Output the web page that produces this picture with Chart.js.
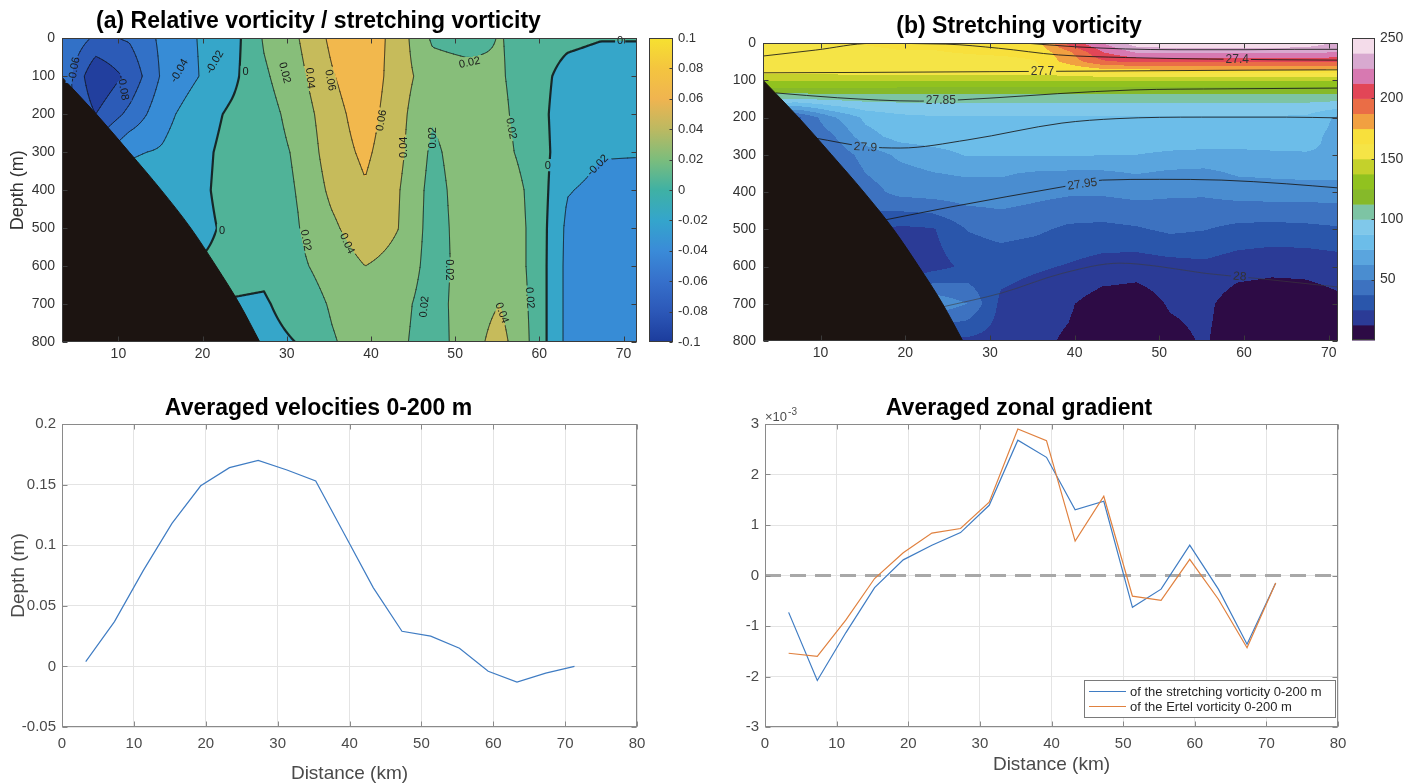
<!DOCTYPE html>
<html>
<head>
<meta charset="utf-8">
<script src="https://cdn.jsdelivr.net/npm/chart.js@4.4.1/dist/chart.umd.min.js"></script>
<style>
  html, body { margin: 0; padding: 0; background: #fff; }
  body { width: 1414px; height: 783px; position: relative; overflow: hidden; }
  canvas { position: absolute; }
</style>
</head>
<body>
<canvas id="cA" width="700" height="380" style="left:0px;top:0px"></canvas>
<canvas id="cAbar" width="70" height="380" style="left:640px;top:0px"></canvas>
<canvas id="cB" width="700" height="380" style="left:700px;top:0px"></canvas>
<canvas id="cBbar" width="69" height="380" style="left:1345px;top:0px"></canvas>
<canvas id="cC" width="700" height="403" style="left:0px;top:380px"></canvas>
<canvas id="cD" width="700" height="403" style="left:700px;top:380px"></canvas>
<script>
// ---- ticks ----
const depthTicks = [0, 100, 200, 300, 400, 500, 600, 700, 800];
const sectionKmTicks = [10, 20, 30, 40, 50, 60, 70];
const distTicks = [0, 10, 20, 30, 40, 50, 60, 70, 80];
const velTicks = [-0.05, 0, 0.05, 0.1, 0.15, 0.2];
const gradTicks = [-3, -2, -1, 0, 1, 2, 3];
const relBarTicks = [-0.1, -0.08, -0.06, -0.04, -0.02, 0, 0.02, 0.04, 0.06, 0.08, 0.1];
const strBarTicks = [50, 100, 150, 200, 250];

// ---- bathymetry (shelf slope) ----
const bathyKm = [3.2, 7.4, 11.3, 15.1, 18.6, 21.6, 24.4, 26.8];
const bathyDepth = [100, 200, 300, 400, 500, 600, 700, 800];

// ---- (a) relative vorticity / stretching vorticity, rows by depth ----
const relKm = [3.3, 7.3, 11.3, 15.3, 19.3, 23.3, 27.3, 31.3, 35.3, 39.3, 43.3, 47.3, 51.3, 55.3, 59.3, 63.3, 67.3, 71.3];
const relDepth = [0, 100, 200, 300, 400, 500, 600, 700, 800];
const rel000 = [-0.04, -0.064, -0.058, -0.035, -0.02, -0.01, 0.022, 0.039, 0.064, 0.075, 0.05, 0.017, 0.012, 0.021, 0.012, 0.005, 0.001, 0.001];
const rel100 = [-0.045, -0.098, -0.075, -0.036, -0.021, -0.006, 0.017, 0.034, 0.058, 0.075, 0.048, 0.03, 0.028, 0.022, 0.01, -0.008, -0.012, -0.012];
const rel200 = [-0.05, -0.08, -0.055, -0.026, -0.01, 0.003, 0.012, 0.028, 0.052, 0.07, 0.046, 0.022, 0.03, 0.024, 0.01, -0.012, -0.016, -0.017];
const rel300 = [-0.04, -0.05, -0.022, -0.018, -0.006, 0.006, 0.01, 0.023, 0.05, 0.064, 0.045, 0.016, 0.03, 0.026, 0.012, -0.012, -0.019, -0.019];
const rel400 = [-0.03, -0.03, -0.012, -0.01, -0.005, 0.007, 0.008, 0.021, 0.044, 0.058, 0.041, 0.013, 0.029, 0.033, 0.015, -0.019, -0.024, -0.026];
const rel500 = [-0.03, -0.02, -0.01, -0.008, -0.006, 0.004, 0.008, 0.019, 0.036, 0.052, 0.04, 0.012, 0.028, 0.034, 0.016, -0.024, -0.026, -0.027];
const rel600 = [-0.03, -0.02, -0.01, -0.005, 0.001, 0.005, 0.004, 0.016, 0.028, 0.04, 0.034, 0.012, 0.027, 0.034, 0.016, -0.025, -0.027, -0.028];
const rel700 = [-0.03, -0.02, -0.01, -0.005, 0.002, -0.001, -0.002, 0.008, 0.022, 0.032, 0.026, 0.011, 0.03, 0.04, 0.016, -0.025, -0.027, -0.028];
const rel800 = [-0.03, -0.02, -0.01, -0.005, 0.0, -0.004, -0.006, 0.0005, 0.018, 0.029, 0.024, 0.01, 0.03, 0.048, 0.016, -0.025, -0.027, -0.028];
const relLevels = [-0.08, -0.06, -0.04, -0.02, 0, 0.02, 0.04, 0.06, 0.08];
const relLabelText = ['-0.06', '-0.08', '-0.04', '-0.02', '0', '0.02', '0.04', '0.06', '0.06', '0.04', '0.02', '0.02', '0.02', '0', '-0.02', '0', '0.04', '0.02', '0', '0.02', '0.02', '0.04', '0.02'];
const relLabelKm = [4.7, 10.6, 17.2, 21.4, 25.1, 29.8, 32.8, 35.2, 41.2, 43.9, 47.3, 51.7, 56.7, 61.0, 66.9, 69.6, 37.2, 32.3, 22.3, 49.3, 46.3, 55.6, 58.9];
const relLabelDepth = [82, 130, 85, 62, 88, 90, 105, 110, 216, 287, 262, 63, 237, 334, 334, 5, 540, 532, 505, 610, 707, 723, 684];
const relLabelAngle = [-80, 80, -60, -60, 0, 75, 85, 80, -80, -90, -90, -12, 80, 0, -45, 0, 65, 80, 0, 90, -85, 70, 85];

// ---- (b) stretching vorticity, rows by depth ----
const strKm = [3.3, 7.3, 11.3, 15.3, 19.3, 23.3, 27.3, 31.3, 35.3, 39.3, 43.3, 47.3, 51.3, 55.3, 59.3, 63.3, 67.3, 71.3];
const strDepth = [0, 25, 50, 75, 100, 125, 150, 200, 250, 300, 350, 400, 500, 600, 700, 800];
const str000 = [162, 162, 163, 163, 164, 164, 165, 166, 168, 205, 225, 245, 248, 248, 248, 248, 245, 235];
const str025 = [160, 160, 161, 161, 162, 162, 163, 164, 165, 185, 212, 226, 228, 228, 228, 228, 228, 224];
const str050 = [158, 158, 159, 159, 160, 160, 160, 160, 162, 180, 198, 202, 203, 203, 203, 203, 203, 202];
const str075 = [156, 156, 156, 157, 157, 157, 158, 158, 158, 162, 168, 170, 170, 170, 170, 170, 170, 170];
const str100 = [140, 140, 140, 140, 139, 139, 139, 139, 139, 139, 139, 139, 138, 138, 138, 138, 138, 138];
const str125 = [121, 121, 121, 121, 121, 121, 121, 120, 120, 120, 120, 120, 120, 120, 120, 120, 120, 120];
const str150 = [100, 100, 103, 104, 104, 104, 104, 104, 104, 104, 104, 104, 104, 104, 104, 104, 104, 104];
const str200 = [40, 35, 60, 78, 84, 86, 86, 86, 86, 86, 86, 86, 86, 86, 86, 86, 85, 72];
const str250 = [40, 35, 48, 70, 80, 82, 82, 82, 82, 82, 82, 82, 82, 82, 82, 82, 80, 70];
const str300 = [30, 30, 40, 55, 65, 70, 76, 76, 76, 76, 75.5, 75, 73, 72, 72, 73, 74, 74];
const str350 = [30, 30, 35, 50, 58, 62, 64, 64, 61, 60, 60, 63, 60, 59, 64, 65, 66, 66];
const str400 = [30, 30, 32, 44, 54, 56, 57, 57, 54, 52, 52, 54, 52, 52, 55, 56, 56, 56];
const str500 = [30, 30, 30, 30, 22, 24, 38, 42, 40, 35, 34, 36, 40, 38, 34, 33, 34, 36];
const str600 = [25, 25, 25, 25, 18, 20, 28, 30, 27, 24, 20, 18, 20, 22, 18, 16, 16, 18];
const str700 = [25, 25, 25, 25, 25, 60, 50, 22, 17, 14, 6, 5, 14, 16, 5, 4, 6, 10];
const str800 = [20, 20, 20, 20, 20, 20, 22, 20, 15, 11, 4, 4, 8, 14, 4, 3, 3, 4];
const strLevels = [12.5, 25, 37.5, 50, 62.5, 75, 87.5, 100, 112.5, 125, 137.5, 150, 162.5, 175, 187.5, 200, 212.5, 225, 237.5];
const strBarEdges = [0, 12.5, 25, 37.5, 50, 62.5, 75, 87.5, 100, 112.5, 125, 137.5, 150, 162.5, 175, 187.5, 200, 212.5, 225, 237.5, 250];

// isopycnals drawn over (b)
const iso273Km = [34, 40, 46, 52, 60, 66, 71.1];
const iso273Depth = [0, 10, 16, 18, 18, 17, 17];
const iso274Km = [3.2, 9.4, 16, 24.8, 31, 38.1, 46, 55.8, 64, 71.1];
const iso274Depth = [35, 19, 1, 3, 14, 32, 39, 43, 45, 46];
const iso277Km = [3.2, 15, 30, 45, 60, 71.1];
const iso277Depth = [80, 79, 77, 75, 73, 72];
const iso2785Km = [4.7, 12, 21.7, 30, 38, 46.9, 58, 71.1];
const iso2785Depth = [134, 147, 156, 148, 136, 126, 123, 121];
const iso279Km = [9.3, 15.3, 19.4, 27.4, 38.5, 45, 55, 65, 71.1];
const iso279Depth = [255, 278, 282, 260, 215, 203, 199, 199, 201];
const iso2795Km = [17.6, 25.4, 38.6, 43.3, 50, 57.3, 65, 71.1];
const iso2795Depth = [475, 440, 386, 368, 366, 368, 378, 389];
const iso28Km = [24.3, 31.4, 38.6, 45.4, 50, 55.3, 62, 71.1];
const iso28Depth = [709, 671, 618, 591, 600, 618, 633, 655];
const isoLabelText = ['27.4', '27.7', '27.85', '27.9', '27.95', '28'];
const isoLabelKm = [59.2, 36.2, 24.2, 15.3, 40.9, 59.5];
const isoLabelDepth = [44, 77, 153, 279, 378, 626];
const isoLabelAngle = [0, 0, 0, 3, -8, 5];

// ---- bottom panels ----
const distKm = [3.3, 7.3, 11.3, 15.3, 19.3, 23.3, 27.3, 31.3, 35.3, 39.3, 43.3, 47.3, 51.3, 55.3, 59.3, 63.3, 67.3, 71.3];
const velAvg = [0.004, 0.037, 0.079, 0.118, 0.149, 0.164, 0.170, 0.162, 0.153, 0.109, 0.065, 0.029, 0.025, 0.015, -0.004, -0.013, -0.0055, 0.0];
// zonal gradient, units of 1e-3
const gradStretch = [-0.73, -2.08, -1.13, -0.24, 0.31, 0.6, 0.85, 1.39, 2.68, 2.34, 1.30, 1.47, -0.63, -0.27, 0.6, -0.27, -1.36, -0.15];
const gradErtel = [-1.54, -1.6, -0.88, -0.06, 0.45, 0.84, 0.93, 1.45, 2.9, 2.67, 0.68, 1.57, -0.41, -0.49, 0.32, -0.47, -1.43, -0.15];
const zeroLineKm = [0, 80];
const zeroLineVal = [0, 0];

// ---- colours ----
const relColors = ['#223f9e', '#2c5bb7', '#3271c7', '#378cd6', '#36a6c9', '#50b398', '#87be7a', '#c6bb5b', '#f2b84d', '#f7d93a'];
const relBarColors = ['#1c3c9c', '#2c58b8', '#3670cb', '#3a8bd8', '#34a5cc', '#3fb1a4', '#7cbd7c', '#bcb961', '#f0b450', '#f4c53f', '#f6e130'];
const strColors = ['#2d0b45', '#2b3b96', '#2a56ab', '#3d72c0', '#4a8dd0', '#5aa5de', '#6cbde9', '#80c8ea', '#7dc4a4', '#86b92a', '#91c21f',
  '#c4d12b', '#f5e446', '#f8e03c', '#f1a041', '#ea6d46', '#e24657', '#d779b1', '#d8a9d0', '#f4dcea'];
const FONT = '"Liberation Sans", Arial, Helvetica, sans-serif';

Chart.defaults.font.family = FONT;
Chart.defaults.color = '#333';
Chart.defaults.animation = false;

// ---------- helpers ----------
const hex = h => [parseInt(h.slice(1, 3), 16), parseInt(h.slice(3, 5), 16), parseInt(h.slice(5, 7), 16)];
const pts = (xs, ys) => xs.map((x, i) => ({ x, y: ys[i] }));
const ticksFrom = list => scale => { scale.ticks = list.map(v => ({ value: v })); };
const fmt = v => String(Number(Number(v).toFixed(3)));

function segIndex(arr, v) {
  let i = 0;
  while (i < arr.length - 2 && v > arr[i + 1]) i++;
  return i;
}
function fieldAt(xs, ds, rows, x, d) {
  const i = segIndex(xs, x), j = segIndex(ds, d);
  const tx = Math.min(1, Math.max(0, (x - xs[i]) / (xs[i + 1] - xs[i])));
  const ty = Math.min(1, Math.max(0, (d - ds[j]) / (ds[j + 1] - ds[j])));
  const r0 = rows[j], r1 = rows[j + 1];
  return (r0[i] * (1 - tx) + r0[i + 1] * tx) * (1 - ty) + (r1[i] * (1 - tx) + r1[i + 1] * tx) * ty;
}
function bandOf(levels, v) {
  let k = 0;
  while (k < levels.length && v >= levels[k]) k++;
  return k;
}

// filled contour section drawn through the chart scales;
// contour lines / isolines get a gap where their label sits (like clabel)
function fieldLayer(f) {
  const rgb = f.colors.map(hex);
  const at = (x, d) => fieldAt(f.xs, f.ds, f.rows, x, d);
  const labelBoxes = (ctx, x, y) => {
    ctx.font = f.labelSize + 'px ' + FONT;
    return f.labelText.map((t, n) => {
      const cx = x.getPixelForValue(f.labelKm[n]), cy = y.getPixelForValue(f.labelDepth[n]);
      const hw = ctx.measureText(t).width / 2 + 2, hh = f.labelSize * 0.55;
      const a = f.labelAngle[n] * Math.PI / 180, c = Math.cos(a), s = Math.sin(a);
      return [[-hw, -hh], [hw, -hh], [hw, hh], [-hw, hh]].map(([u, v]) => [cx + u * c - v * s, cy + u * s + v * c]);
    });
  };
  return {
    id: 'field',
    beforeDatasetsDraw(chart) {
      const { ctx, chartArea: a, scales: { x, y } } = chart;
      const left = Math.round(a.left), top = Math.round(a.top);
      const w = Math.round(a.right) - left, h = Math.round(a.bottom) - top;
      const off = document.createElement('canvas');
      off.width = w; off.height = h;
      const octx = off.getContext('2d');
      const img = octx.createImageData(w, h);
      const xv = [];
      for (let i = 0; i < w; i++) xv.push(x.getValueForPixel(left + i + 0.5));
      for (let j = 0; j < h; j++) {
        const d = y.getValueForPixel(top + j + 0.5);
        for (let i = 0; i < w; i++) {
          const c = rgb[bandOf(f.levels, at(xv[i], d))];
          const k = (j * w + i) * 4;
          img.data[k] = c[0]; img.data[k + 1] = c[1]; img.data[k + 2] = c[2]; img.data[k + 3] = 255;
        }
      }
      octx.putImageData(img, 0, 0);
      ctx.drawImage(off, left, top);

      // clip with holes at the labels; restored after the datasets are drawn
      ctx.save();
      ctx.beginPath();
      ctx.rect(a.left, a.top, a.right - a.left, a.bottom - a.top);
      labelBoxes(ctx, x, y).forEach(b => {
        ctx.moveTo(b[0][0], b[0][1]);
        for (let k = 1; k < 4; k++) ctx.lineTo(b[k][0], b[k][1]);
        ctx.closePath();
      });
      ctx.clip('evenodd');

      if (f.contours) {
        const st = 2, nx = Math.floor(w / st) + 1, ny = Math.floor(h / st) + 1;
        const vals = new Float64Array(nx * ny);
        for (let j = 0; j < ny; j++) {
          const d = y.getValueForPixel(top + j * st);
          for (let i = 0; i < nx; i++) vals[j * nx + i] = at(x.getValueForPixel(left + i * st), d);
        }
        ctx.save();
        ctx.lineCap = 'round';
        ctx.strokeStyle = f.lineColor;
        f.levels.forEach(L => {
          ctx.lineWidth = L === 0 ? f.zeroWidth : f.lineWidth;
          ctx.beginPath();
          for (let j = 0; j < ny - 1; j++) {
            for (let i = 0; i < nx - 1; i++) {
              const p = vals[j * nx + i], q = vals[j * nx + i + 1];
              const r = vals[(j + 1) * nx + i + 1], s = vals[(j + 1) * nx + i];
              const px = left + i * st, py = top + j * st;
              const e = [];
              if ((p < L) !== (q < L)) e.push([px + st * (L - p) / (q - p), py]);
              if ((q < L) !== (r < L)) e.push([px + st, py + st * (L - q) / (r - q)]);
              if ((r < L) !== (s < L)) e.push([px + st * (L - s) / (r - s), py + st]);
              if ((s < L) !== (p < L)) e.push([px, py + st * (L - p) / (s - p)]);
              if (e.length >= 2) { ctx.moveTo(e[0][0], e[0][1]); ctx.lineTo(e[1][0], e[1][1]); }
              if (e.length === 4) { ctx.moveTo(e[2][0], e[2][1]); ctx.lineTo(e[3][0], e[3][1]); }
            }
          }
          ctx.stroke();
        });
        ctx.restore();
      }
    },
    afterDatasetsDraw(chart) {
      const { ctx, scales: { x, y } } = chart;
      ctx.restore();
      ctx.save();
      ctx.font = f.labelSize + 'px ' + FONT;
      ctx.textAlign = 'center';
      ctx.textBaseline = 'middle';
      ctx.fillStyle = f.labelColor;
      f.labelText.forEach((t, n) => {
        ctx.save();
        ctx.translate(x.getPixelForValue(f.labelKm[n]), y.getPixelForValue(f.labelDepth[n]));
        ctx.rotate(f.labelAngle[n] * Math.PI / 180);
        ctx.fillText(t, 0, 0.5);
        ctx.restore();
      });
      ctx.restore();
    }
  };
}

// box round the axes with inward tick marks
function frameLayer(o) {
  return {
    id: 'frame',
    afterDraw(chart) {
      const { ctx, chartArea: a } = chart;
      const L = Math.round(a.left) + 0.5, R = Math.round(a.right) - 0.5;
      const T = Math.round(a.top) + 0.5, B = Math.round(a.bottom) - 0.5;
      ctx.save();
      ctx.strokeStyle = o.color;
      ctx.lineWidth = 1;
      ctx.strokeRect(L, T, R - L, B - T);
      ctx.beginPath();
      Object.values(chart.scales).forEach(s => {
        if (!s.options.display) return;
        s.ticks.forEach(t => {
          const p = Math.round(s.getPixelForValue(t.value)) + 0.5;
          if (s.isHorizontal()) {
            ctx.moveTo(p, B); ctx.lineTo(p, B - o.len);
            ctx.moveTo(p, T); ctx.lineTo(p, T + o.len);
          } else {
            if (!o.rightOnly) { ctx.moveTo(L, p); ctx.lineTo(L + o.len, p); }
            ctx.moveTo(R, p); ctx.lineTo(R - o.len, p);
          }
        });
      });
      ctx.stroke();
      ctx.restore();
    }
  };
}

function gradientBar(ticks, colors) {
  return {
    id: 'gradBar',
    beforeDatasetsDraw(chart) {
      const { ctx, chartArea: a, scales: { y } } = chart;
      const lo = ticks[0], hi = ticks[ticks.length - 1];
      const g = ctx.createLinearGradient(0, y.getPixelForValue(lo), 0, y.getPixelForValue(hi));
      ticks.forEach((v, i) => g.addColorStop((v - lo) / (hi - lo), colors[i]));
      ctx.save();
      ctx.fillStyle = g;
      ctx.fillRect(a.left, a.top, a.right - a.left, a.bottom - a.top);
      ctx.restore();
    }
  };
}

function bandBar(edges, colors) {
  return {
    id: 'bandBar',
    beforeDatasetsDraw(chart) {
      const { ctx, chartArea: a, scales: { y } } = chart;
      ctx.save();
      for (let k = 0; k < colors.length; k++) {
        const y0 = y.getPixelForValue(edges[k]), y1 = y.getPixelForValue(edges[k + 1]);
        ctx.fillStyle = colors[k];
        ctx.fillRect(a.left, y1, a.right - a.left, y0 - y1 + 0.5);
      }
      ctx.restore();
    }
  };
}

function boxLegend(o) {
  return {
    id: 'boxLegend',
    afterDraw(chart) {
      const { ctx, chartArea: a } = chart;
      const items = chart.data.datasets.filter(d => d.label);
      ctx.save();
      ctx.font = '13px ' + FONT;
      const tw = Math.max(...items.map(d => ctx.measureText(d.label).width));
      const bw = Math.round(46 + tw + 14), bh = 37;
      const bx = Math.round(a.right - o.right - bw), by = Math.round(a.bottom - o.bottom - bh);
      ctx.fillStyle = '#fff';
      ctx.fillRect(bx, by, bw, bh);
      ctx.strokeStyle = '#7a7a7a';
      ctx.lineWidth = 1;
      ctx.strokeRect(bx + 0.5, by + 0.5, bw, bh);
      items.forEach((d, i) => {
        const cy = by + 11.5 + i * 15;
        ctx.strokeStyle = d.borderColor;
        ctx.lineWidth = d.borderWidth;
        ctx.beginPath(); ctx.moveTo(bx + 5, cy); ctx.lineTo(bx + 42, cy); ctx.stroke();
        ctx.fillStyle = '#262626';
        ctx.textBaseline = 'middle';
        ctx.fillText(d.label, bx + 46, cy + 0.5);
      });
      ctx.restore();
    }
  };
}

const exponentLabel = {
  id: 'expo',
  afterDraw(chart) {
    const { ctx, chartArea: a } = chart;
    ctx.save();
    ctx.fillStyle = '#4d4d4d';
    ctx.textBaseline = 'alphabetic';
    ctx.font = '13px ' + FONT;
    ctx.fillText('\u00d710', a.left, a.top - 3);
    const w = ctx.measureText('\u00d710').width;
    ctx.font = '10px ' + FONT;
    ctx.fillText('-3', a.left + w + 1, a.top - 9);
    ctx.restore();
  }
};

const noInteract = { legend: { display: false }, tooltip: { enabled: false } };
function sectionAxes(xMin, xMax, yWidth, xHeight, yTitle) {
  return {
    x: {
      type: 'linear', min: xMin, max: xMax,
      afterBuildTicks: ticksFrom(sectionKmTicks),
      afterFit: s => { s.height = xHeight; },
      grid: { display: false, drawTicks: false }, border: { display: false },
      ticks: { padding: 4, font: { size: 14 }, color: '#333', callback: fmt }
    },
    y: {
      type: 'linear', reverse: true, min: 0, max: 800,
      afterBuildTicks: ticksFrom(depthTicks),
      afterFit: s => { s.width = yWidth; },
      grid: { display: false, drawTicks: false }, border: { display: false },
      ticks: { padding: 7, font: { size: 14 }, color: '#333', callback: fmt },
      title: { display: !!yTitle, text: yTitle || '', color: '#333', font: { size: 18, lineHeight: 1 }, padding: { top: 9, bottom: 0 } }
    }
  };
}
const bathyDataset = {
  data: pts(bathyKm, bathyDepth), fill: { value: 800 },
  backgroundColor: '#1c1411', borderColor: '#1c1411', borderWidth: 1,
  pointRadius: 0, cubicInterpolationMode: 'monotone'
};

// ---------- (a) ----------
new Chart(document.getElementById('cA'), {
  type: 'line',
  data: { datasets: [bathyDataset] },
  options: {
    responsive: false, events: [],
    layout: { padding: { left: 0, right: 63, top: 0, bottom: 0 } },
    plugins: Object.assign({
      title: { display: true, text: '(a) Relative vorticity / stretching vorticity', color: '#000',
        font: { size: 23, weight: 'bold' }, padding: { top: 8, bottom: 2.8 } }
    }, noInteract),
    scales: sectionAxes(3.3, 71.6, 62, 38, 'Depth (m)')
  },
  plugins: [
    fieldLayer({
      xs: relKm, ds: relDepth,
      rows: [rel000, rel100, rel200, rel300, rel400, rel500, rel600, rel700, rel800],
      levels: relLevels, colors: relColors, contours: true,
      lineColor: 'rgba(15,15,15,0.85)', lineWidth: 0.7, zeroWidth: 2.2,
      labelText: relLabelText, labelKm: relLabelKm, labelDepth: relLabelDepth, labelAngle: relLabelAngle,
      labelSize: 11, labelColor: '#1a1a1a'
    }),
    frameLayer({ color: '#3a3a3a', len: 5 })
  ]
});

new Chart(document.getElementById('cAbar'), {
  type: 'line',
  data: { datasets: [] },
  options: {
    responsive: false, events: [],
    layout: { padding: { left: 9, right: 0, top: 38, bottom: 38 } },
    plugins: noInteract,
    scales: {
      x: { type: 'linear', min: 0, max: 1, display: false },
      y: {
        type: 'linear', position: 'right', min: -0.1, max: 0.1,
        afterBuildTicks: ticksFrom(relBarTicks),
        afterFit: s => { s.width = 37; },
        grid: { display: false, drawTicks: false }, border: { display: false },
        ticks: { padding: 5, font: { size: 13 }, color: '#333', callback: fmt }
      }
    }
  },
  plugins: [gradientBar(relBarTicks, relBarColors), frameLayer({ color: '#3a3a3a', len: 3, rightOnly: true })]
});

// ---------- (b) ----------
const isoStyle = { borderColor: 'rgba(25,25,25,0.85)', borderWidth: 1, pointRadius: 0, fill: false, cubicInterpolationMode: 'monotone' };
new Chart(document.getElementById('cB'), {
  type: 'line',
  data: {
    datasets: [
      bathyDataset,
      Object.assign({ data: pts(iso273Km, iso273Depth) }, isoStyle),
      Object.assign({ data: pts(iso274Km, iso274Depth) }, isoStyle),
      Object.assign({ data: pts(iso277Km, iso277Depth) }, isoStyle),
      Object.assign({ data: pts(iso2785Km, iso2785Depth) }, isoStyle),
      Object.assign({ data: pts(iso279Km, iso279Depth) }, isoStyle),
      Object.assign({ data: pts(iso2795Km, iso2795Depth) }, isoStyle),
      Object.assign({ data: pts(iso28Km, iso28Depth) }, isoStyle, { borderColor: 'rgba(60,60,60,0.6)' })
    ]
  },
  options: {
    responsive: false, events: [],
    layout: { padding: { left: 0, right: 62, top: 0, bottom: 0 } },
    plugins: Object.assign({
      title: { display: true, text: '(b) Stretching vorticity', color: '#000',
        font: { size: 23, weight: 'bold' }, padding: { top: 13, bottom: 2.4 } }
    }, noInteract),
    scales: sectionAxes(3.2, 71.1, 63, 39, '')
  },
  plugins: [
    fieldLayer({
      xs: strKm, ds: strDepth,
      rows: [str000, str025, str050, str075, str100, str125, str150, str200, str250, str300, str350, str400, str500, str600, str700, str800],
      levels: strLevels, colors: strColors, contours: false,
      labelText: isoLabelText, labelKm: isoLabelKm, labelDepth: isoLabelDepth, labelAngle: isoLabelAngle,
      labelSize: 12, labelColor: '#333'
    }),
    frameLayer({ color: '#3a3a3a', len: 5 })
  ]
});

new Chart(document.getElementById('cBbar'), {
  type: 'line',
  data: { datasets: [] },
  options: {
    responsive: false, events: [],
    layout: { padding: { left: 7, right: 0, top: 38, bottom: 40 } },
    plugins: noInteract,
    scales: {
      x: { type: 'linear', min: 0, max: 1, display: false },
      y: {
        type: 'linear', position: 'right', min: 0, max: 250,
        afterBuildTicks: ticksFrom(strBarTicks),
        afterFit: s => { s.width = 39; },
        grid: { display: false, drawTicks: false }, border: { display: false },
        ticks: { padding: 5, font: { size: 14 }, color: '#333' }
      }
    }
  },
  plugins: [bandBar(strBarEdges, strColors), frameLayer({ color: '#3a3a3a', len: 3, rightOnly: true })]
});

// ---------- bottom panels ----------
function lineAxes(yTicks, yWidth, yTitle, xTitlePad) {
  return {
    x: {
      type: 'linear', min: 0, max: 80,
      afterBuildTicks: ticksFrom(distTicks),
      afterFit: s => { s.height = 56; },
      grid: { color: '#e4e4e4', drawTicks: false }, border: { display: false },
      ticks: { padding: 8, font: { size: 15 }, color: '#4a4a4a', callback: fmt },
      title: { display: true, text: 'Distance (km)', color: '#4a4a4a', font: { size: 19, lineHeight: 1 }, padding: { top: 0, bottom: xTitlePad } }
    },
    y: {
      type: 'linear', min: yTicks[0], max: yTicks[yTicks.length - 1],
      afterBuildTicks: ticksFrom(yTicks),
      afterFit: s => { s.width = yWidth; },
      grid: { color: '#e4e4e4', drawTicks: false }, border: { display: false },
      ticks: { padding: 6, font: { size: 15 }, color: '#4a4a4a', callback: fmt },
      title: { display: !!yTitle, text: yTitle || '', color: '#4a4a4a', font: { size: 19, lineHeight: 1 }, padding: { top: 9, bottom: 0 } }
    }
  };
}

new Chart(document.getElementById('cC'), {
  type: 'line',
  data: {
    datasets: [{ data: pts(distKm, velAvg), borderColor: '#3f7cc3', borderWidth: 1.2, pointRadius: 0, fill: false, tension: 0 }]
  },
  options: {
    responsive: false, events: [],
    layout: { padding: { left: 0, right: 63, top: 0, bottom: 0 } },
    plugins: Object.assign({
      title: { display: true, text: 'Averaged velocities 0-200 m', color: '#000',
        font: { size: 23, weight: 'bold' }, padding: { top: 15, bottom: 1.4 } }
    }, noInteract),
    scales: lineAxes(velTicks, 62, 'Depth (m)', 0)
  },
  plugins: [frameLayer({ color: '#8a8a8a', len: 5 })]
});

new Chart(document.getElementById('cD'), {
  type: 'line',
  data: {
    datasets: [
      { label: 'of the stretching vorticity 0-200 m', data: pts(distKm, gradStretch), borderColor: '#3f7cc3', borderWidth: 1.2, pointRadius: 0, fill: false, tension: 0, order: 1 },
      { label: 'of the Ertel vorticity 0-200 m', data: pts(distKm, gradErtel), borderColor: '#e0813f', borderWidth: 1.2, pointRadius: 0, fill: false, tension: 0, order: 0 },
      { data: pts(zeroLineKm, zeroLineVal), borderColor: '#a8a8a8', borderWidth: 3, borderDash: [16, 9], pointRadius: 0, fill: false, order: 2 }
    ]
  },
  options: {
    responsive: false, events: [],
    layout: { padding: { left: 0, right: 62, top: 0, bottom: 0 } },
    plugins: Object.assign({
      title: { display: true, text: 'Averaged zonal gradient', color: '#000',
        font: { size: 23, weight: 'bold' }, padding: { top: 15, bottom: 1.4 } }
    }, noInteract),
    scales: lineAxes(gradTicks, 65, '', 9)
  },
  plugins: [frameLayer({ color: '#8a8a8a', len: 5 }), boxLegend({ right: 3, bottom: 10 }), exponentLabel]
});
</script>
</body>
</html>
